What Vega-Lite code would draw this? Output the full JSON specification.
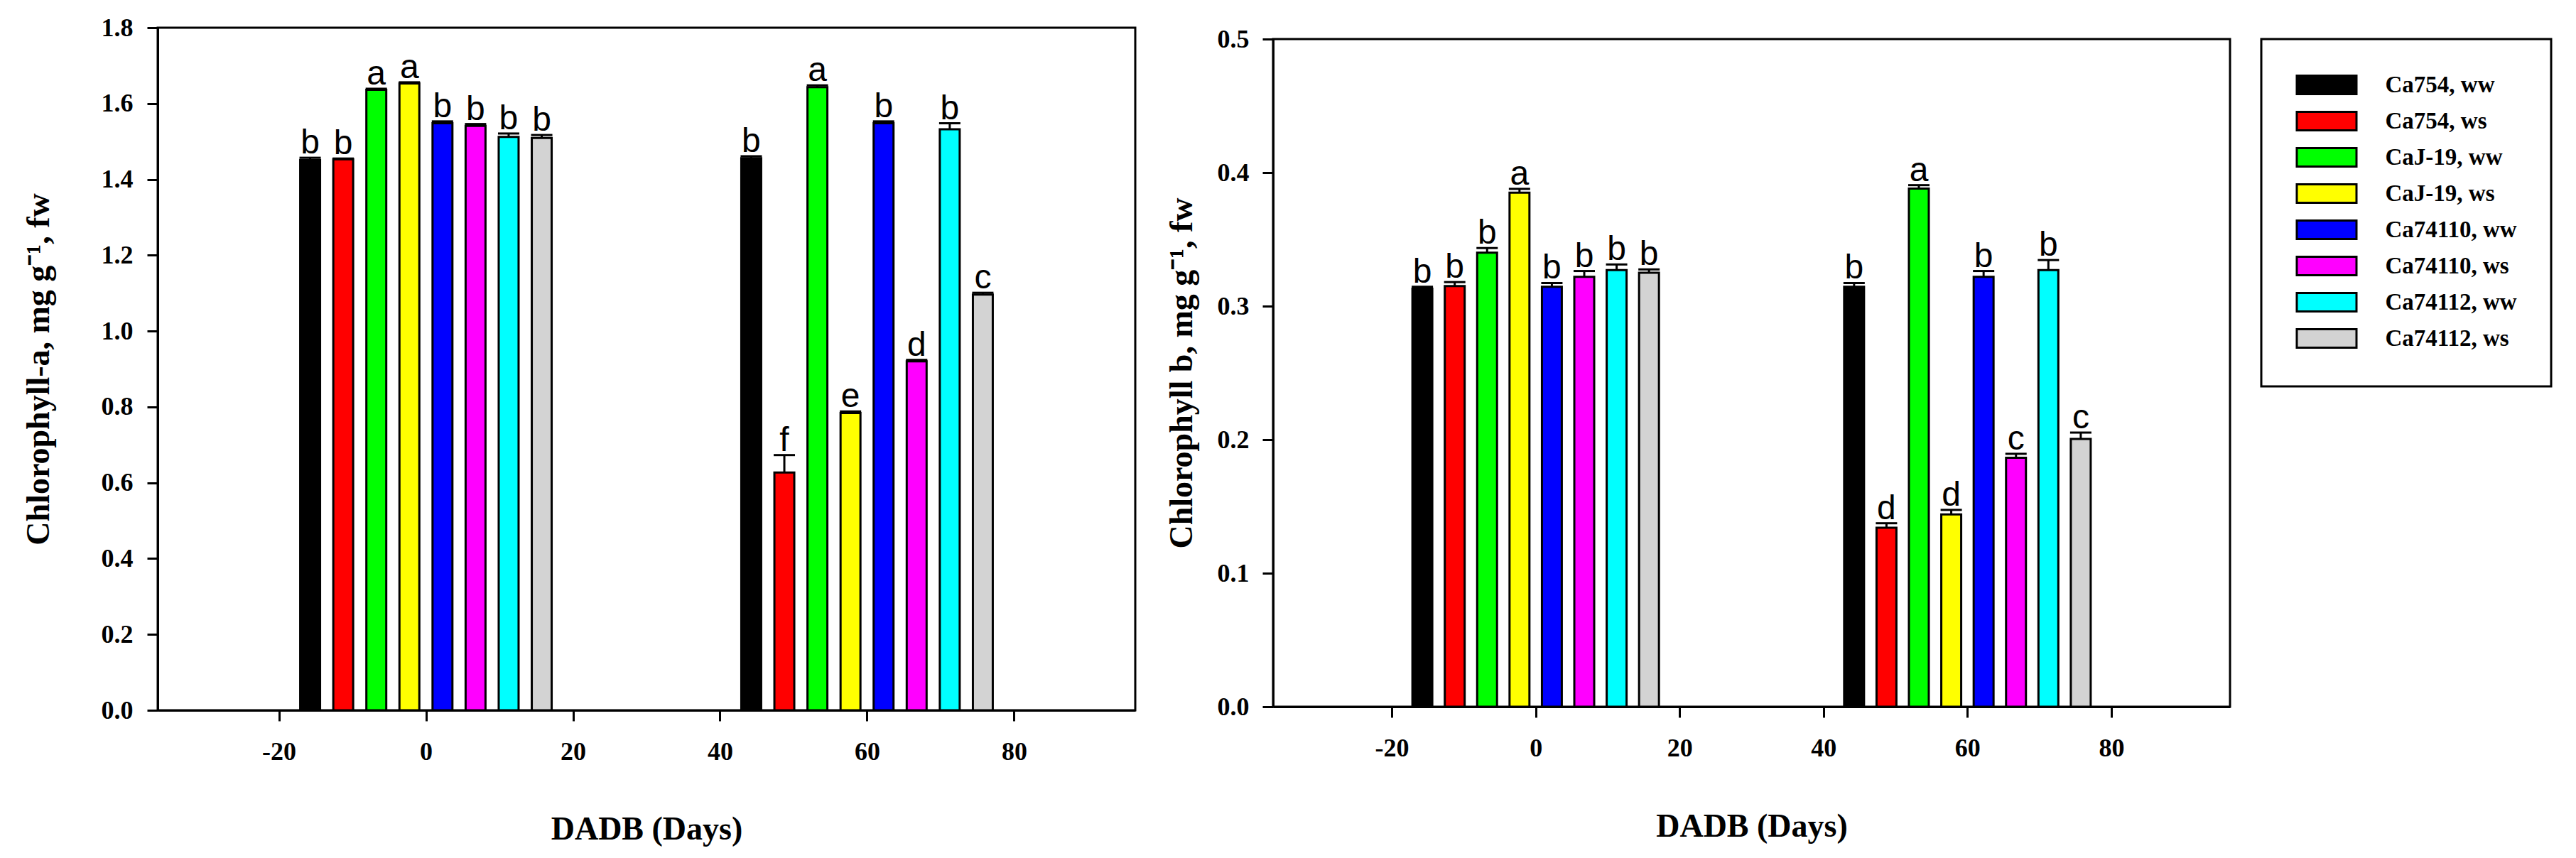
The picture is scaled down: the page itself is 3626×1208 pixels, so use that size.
{
  "$schema": "https://vega.github.io/schema/vega-lite/v6.json",
  "background": "white",
  "padding": {"left": 29, "top": 19, "right": 0, "bottom": 0},
  "spacing": 38,
  "datasets": {
    "chlA": [
      {"day": -15.75, "treat": "Ca754, ww", "value": 1.451, "upper": 1.457, "letter": "b"},
      {"day": -11.25, "treat": "Ca754, ws", "value": 1.453, "upper": 1.455, "letter": "b"},
      {"day": -6.75, "treat": "CaJ-19, ww", "value": 1.636, "upper": 1.639, "letter": "a"},
      {"day": -2.25, "treat": "CaJ-19, ws", "value": 1.653, "upper": 1.656, "letter": "a"},
      {"day": 2.25, "treat": "Ca74110, ww", "value": 1.548, "upper": 1.553, "letter": "b"},
      {"day": 6.75, "treat": "Ca74110, ws", "value": 1.541, "upper": 1.546, "letter": "b"},
      {"day": 11.25, "treat": "Ca74112, ww", "value": 1.512, "upper": 1.521, "letter": "b"},
      {"day": 15.75, "treat": "Ca74112, ws", "value": 1.509, "upper": 1.517, "letter": "b"},
      {"day": 44.25, "treat": "Ca754, ww", "value": 1.456, "upper": 1.461, "letter": "b"},
      {"day": 48.75, "treat": "Ca754, ws", "value": 0.627, "upper": 0.673, "letter": "f"},
      {"day": 53.25, "treat": "CaJ-19, ww", "value": 1.643, "upper": 1.648, "letter": "a"},
      {"day": 57.75, "treat": "CaJ-19, ws", "value": 0.784, "upper": 0.788, "letter": "e"},
      {"day": 62.25, "treat": "Ca74110, ww", "value": 1.548, "upper": 1.553, "letter": "b"},
      {"day": 66.75, "treat": "Ca74110, ws", "value": 0.92, "upper": 0.924, "letter": "d"},
      {"day": 71.25, "treat": "Ca74112, ww", "value": 1.532, "upper": 1.548, "letter": "b"},
      {"day": 75.75, "treat": "Ca74112, ws", "value": 1.096, "upper": 1.101, "letter": "c"}
    ],
    "chlB": [
      {"day": -15.75, "treat": "Ca754, ww", "value": 0.313, "upper": 0.3145, "letter": "b"},
      {"day": -11.25, "treat": "Ca754, ws", "value": 0.315, "upper": 0.318, "letter": "b"},
      {"day": -6.75, "treat": "CaJ-19, ww", "value": 0.34, "upper": 0.3435, "letter": "b"},
      {"day": -2.25, "treat": "CaJ-19, ws", "value": 0.385, "upper": 0.3878, "letter": "a"},
      {"day": 2.25, "treat": "Ca74110, ww", "value": 0.3145, "upper": 0.3173, "letter": "b"},
      {"day": 6.75, "treat": "Ca74110, ws", "value": 0.322, "upper": 0.3263, "letter": "b"},
      {"day": 11.25, "treat": "Ca74112, ww", "value": 0.327, "upper": 0.3312, "letter": "b"},
      {"day": 15.75, "treat": "Ca74112, ws", "value": 0.325, "upper": 0.3275, "letter": "b"},
      {"day": 44.25, "treat": "Ca754, ww", "value": 0.3145, "upper": 0.3173, "letter": "b"},
      {"day": 48.75, "treat": "Ca754, ws", "value": 0.134, "upper": 0.1374, "letter": "d"},
      {"day": 53.25, "treat": "CaJ-19, ww", "value": 0.388, "upper": 0.3906, "letter": "a"},
      {"day": 57.75, "treat": "CaJ-19, ws", "value": 0.144, "upper": 0.1474, "letter": "d"},
      {"day": 62.25, "treat": "Ca74110, ww", "value": 0.322, "upper": 0.3263, "letter": "b"},
      {"day": 66.75, "treat": "Ca74110, ws", "value": 0.1865, "upper": 0.1894, "letter": "c"},
      {"day": 71.25, "treat": "Ca74112, ww", "value": 0.327, "upper": 0.3345, "letter": "b"},
      {"day": 75.75, "treat": "Ca74112, ws", "value": 0.2005, "upper": 0.2053, "letter": "c"}
    ]
  },
  "config": {
    "view": {"stroke": "black", "strokeWidth": 3},
    "axis": {
      "grid": false,
      "domainColor": "black",
      "domainWidth": 3,
      "tickColor": "black",
      "tickWidth": 3,
      "tickSize": 15,
      "labelFont": "Liberation Serif",
      "labelFontSize": 36,
      "labelFontWeight": "bold",
      "labelColor": "black",
      "labelOverlap": false,
      "labelFlush": false,
      "titleFont": "Liberation Serif",
      "titleFontSize": 46,
      "titleFontWeight": "bold",
      "titleColor": "black"
    }
  },
  "resolve": {"scale": {"color": "independent"}, "legend": {"color": "independent"}},
  "hconcat": [
    {
      "width": 1376,
      "height": 961,
      "data": {"name": "chlA"},
      "encoding": {
        "x": {
          "field": "day",
          "type": "quantitative",
          "title": "DADB (Days)",
          "scale": {"domain": [-36, 96], "nice": false, "zero": false},
          "axis": {"values": [-20, 0, 20, 40, 60, 80], "labelExpr": "datum.value < 0 ? '-' + abs(datum.value) : '' + datum.value", "title": "DADB (Days)", "labelPadding": 26, "titleY": 181, "titleBaseline": "alphabetic"}
        },
        "y": {
          "field": "value",
          "type": "quantitative",
          "title": "Chlorophyll-a, mg g⁻¹, fw",
          "stack": null,
          "scale": {"domain": [0, 1.8], "nice": false},
          "axis": {"values": [0, 0.2, 0.4, 0.6, 0.8, 1.0, 1.2, 1.4, 1.6, 1.8], "format": ".1f", "title": "Chlorophyll-a, mg g⁻¹, fw", "labelPadding": 20, "titleX": -168, "titleBaseline": "middle"}
        }
      },
      "layer": [
        {
          "mark": {"type": "bar", "orient": "vertical", "size": 28, "stroke": "black", "strokeWidth": 3},
          "encoding": {
            "color": {
              "field": "treat",
              "type": "nominal",
              "scale": {
                "domain": ["Ca754, ww", "Ca754, ws", "CaJ-19, ww", "CaJ-19, ws", "Ca74110, ww", "Ca74110, ws", "Ca74112, ww", "Ca74112, ws"],
                "range": ["#000000", "#ff0000", "#00ff00", "#ffff00", "#0000ff", "#ff00ff", "#00ffff", "#d3d3d3"]
              },
              "legend": null
            }
          }
        },
        {
          "mark": {"type": "rule", "color": "black", "strokeWidth": 3},
          "encoding": {"y2": {"field": "upper"}}
        },
        {
          "mark": {"type": "tick", "orient": "horizontal", "color": "black", "size": 30, "thickness": 3, "opacity": 1},
          "encoding": {"y": {"field": "upper", "type": "quantitative", "title": "Chlorophyll-a, mg g⁻¹, fw"}}
        },
        {
          "mark": {"type": "text", "font": "Liberation Sans", "fontSize": 48, "color": "black", "align": "center", "baseline": "alphabetic", "dy": -6},
          "encoding": {
            "y": {"field": "upper", "type": "quantitative", "title": "Chlorophyll-a, mg g⁻¹, fw"},
            "text": {"field": "letter"}
          }
        },
        {
          "data": {"values": [{"tag": "A"}]},
          "mark": {"type": "text", "font": "Liberation Serif", "fontWeight": "bold", "fontSize": 62, "color": "black", "align": "center", "baseline": "alphabetic"},
          "encoding": {
            "x": {"datum": 89, "type": "quantitative", "title": "DADB (Days)"},
            "y": {"datum": 1.621, "type": "quantitative", "title": "Chlorophyll-a, mg g⁻¹, fw"},
            "text": {"field": "tag"}
          }
        }
      ]
    },
    {
      "spacing": -5,
      "resolve": {"scale": {"color": "independent"}, "legend": {"color": "independent"}},
      "vconcat": [
        {
          "width": 20,
          "height": 1,
          "view": {"stroke": null},
          "data": {"values": [{"k": 0}]},
          "mark": {"type": "rule", "opacity": 0},
          "encoding": {}
        },
        {
          "width": 1347,
          "height": 940,
          "data": {"name": "chlB"},
          "encoding": {
            "x": {
              "field": "day",
              "type": "quantitative",
              "title": "DADB (Days)",
              "scale": {"domain": [-36, 96], "nice": false, "zero": false},
              "axis": {"values": [-20, 0, 20, 40, 60, 80], "labelExpr": "datum.value < 0 ? '-' + abs(datum.value) : '' + datum.value", "title": "DADB (Days)", "labelPadding": 26, "titleY": 182, "titleBaseline": "alphabetic"}
            },
            "y": {
              "field": "value",
              "type": "quantitative",
              "title": "Chlorophyll b, mg g⁻¹, fw",
              "stack": null,
              "scale": {"domain": [0, 0.5], "nice": false},
              "axis": {"values": [0, 0.1, 0.2, 0.3, 0.4, 0.5], "format": ".1f", "title": "Chlorophyll b, mg g⁻¹, fw", "labelPadding": 19, "titleX": -129, "titleBaseline": "middle"}
            }
          },
          "layer": [
            {
              "mark": {"type": "bar", "orient": "vertical", "size": 28, "stroke": "black", "strokeWidth": 3},
              "encoding": {
                "color": {
                  "field": "treat",
                  "type": "nominal",
                  "scale": {
                    "domain": ["Ca754, ww", "Ca754, ws", "CaJ-19, ww", "CaJ-19, ws", "Ca74110, ww", "Ca74110, ws", "Ca74112, ww", "Ca74112, ws"],
                    "range": ["#000000", "#ff0000", "#00ff00", "#ffff00", "#0000ff", "#ff00ff", "#00ffff", "#d3d3d3"]
                  },
                  "legend": {
                    "orient": "none",
                    "legendX": 1391,
                    "legendY": 0,
                    "title": null,
                    "padding": 48,
                    "strokeColor": "black",
                    "symbolType": "M-2.897,-0.897H2.897V0.897H-2.897Z",
                    "symbolSize": 841,
                    "symbolOffset": 27.5,
                    "symbolStrokeColor": "black",
                    "symbolStrokeWidth": 3,
                    "symbolOpacity": 1,
                    "labelFont": "Liberation Serif",
                    "labelFontSize": 33,
                    "labelFontWeight": "bold",
                    "labelColor": "black",
                    "labelOffset": 66,
                    "labelLimit": 500,
                    "rowPadding": 12,
                    "encode": {"legend": {"update": {"strokeWidth": {"value": 3}}}}
                  }
                }
              }
            },
            {
              "mark": {"type": "rule", "color": "black", "strokeWidth": 3},
              "encoding": {"y2": {"field": "upper"}}
            },
            {
              "mark": {"type": "tick", "orient": "horizontal", "color": "black", "size": 30, "thickness": 3, "opacity": 1},
              "encoding": {"y": {"field": "upper", "type": "quantitative", "title": "Chlorophyll b, mg g⁻¹, fw"}}
            },
            {
              "mark": {"type": "text", "font": "Liberation Sans", "fontSize": 48, "color": "black", "align": "center", "baseline": "alphabetic", "dy": -6},
              "encoding": {
                "y": {"field": "upper", "type": "quantitative", "title": "Chlorophyll b, mg g⁻¹, fw"},
                "text": {"field": "letter"}
              }
            },
            {
              "data": {"values": [{"tag": "B"}]},
              "mark": {"type": "text", "font": "Liberation Serif", "fontWeight": "bold", "fontSize": 62, "color": "black", "align": "center", "baseline": "alphabetic"},
              "encoding": {
                "x": {"datum": 89.1, "type": "quantitative", "title": "DADB (Days)"},
                "y": {"datum": 0.4528, "type": "quantitative", "title": "Chlorophyll b, mg g⁻¹, fw"},
                "text": {"field": "tag"}
              }
            }
          ]
        }
      ]
    }
  ]
}
